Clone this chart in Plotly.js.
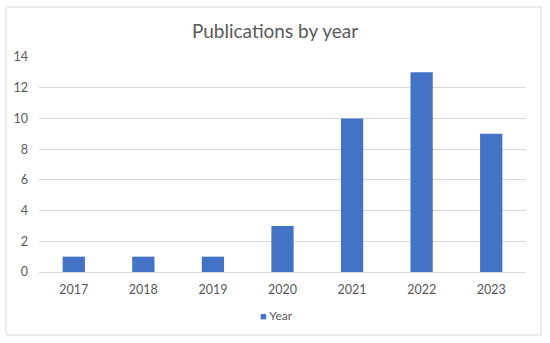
<!DOCTYPE html>
<html>
<head>
<meta charset="utf-8">
<script src="https://cdn.plot.ly/plotly-3.0.1.min.js"></script>
<style>
  body { margin: 0; background: #fff; }
  #chart { width: 550px; height: 343px; }
</style>
</head>
<body>
<div id="chart"></div>
<script>
var years = ['2017', '2018', '2019', '2020', '2021', '2022', '2023'];
var counts = [1, 1, 1, 3, 10, 13, 9];
var yTicks = [0, 2, 4, 6, 8, 10, 12, 14];
var seriesName = 'Year';

var barColor = '#4472C4';
var textColor = '#595959';
var fontFamily = 'Lato, "Open Sans", sans-serif';

var trace = {
    x: years,
    y: counts,
    type: 'bar',
    name: seriesName,
    marker: { color: barColor },
    hoverinfo: 'x+y'
};

// plot area runs from x=39 to 526 and y=57 to 272 in pixels
var plotL = 39, plotR = 526, plotT = 57, plotB = 272;
var pw = plotR - plotL, ph = plotB - plotT;

var layout = {
    width: 550,
    height: 343,
    margin: { l: plotL, r: 550 - plotR, t: plotT, b: 343 - plotB },
    paper_bgcolor: '#fff',
    plot_bgcolor: '#fff',
    font: { family: fontFamily, color: textColor, size: 12 },
    title: {
        text: 'Publications by year',
        font: { size: 19, color: textColor, family: fontFamily },
        x: 0.5,
        xanchor: 'center',
        y: 1 - 31 / 343,
        yanchor: 'middle'
    },
    bargap: 0.68,
    xaxis: {
        type: 'category',
        tickfont: { size: 12.5, color: textColor },
        ticklabelstandoff: 6,
        showgrid: false,
        showline: true,
        linecolor: '#d9d9d9',
        linewidth: 1,
        ticks: '',
        fixedrange: true
    },
    yaxis: {
        range: [0, 14],
        tickvals: yTicks,
        tickfont: { size: 12.5, color: textColor },
        ticklabelstandoff: 10,
        showgrid: true,
        gridcolor: '#d9d9d9',
        gridwidth: 1,
        zeroline: false,
        showline: false,
        ticks: '',
        fixedrange: true
    },
    // Excel style legend: small square right next to the label
    showlegend: false,
    annotations: [{
        xref: 'paper',
        yref: 'paper',
        x: (276 - plotL) / pw,
        y: -(315 - plotB) / ph,
        xanchor: 'center',
        yanchor: 'middle',
        showarrow: false,
        text: '<span style="color:' + barColor + ';font-size:11px">■</span> ' + seriesName,
        font: { size: 12, color: textColor }
    }],
    shapes: [{
        type: 'rect',
        xref: 'paper',
        yref: 'paper',
        x0: (6 - plotL) / pw,
        x1: (541 - plotL) / pw,
        y0: (plotB - 335) / ph,
        y1: (plotB - 7) / ph,
        line: { color: '#d9d9d9', width: 1 },
        fillcolor: 'rgba(0,0,0,0)'
    }]
};

Plotly.newPlot('chart', [trace], layout, { displayModeBar: false, staticPlot: true });
</script>
</body>
</html>
